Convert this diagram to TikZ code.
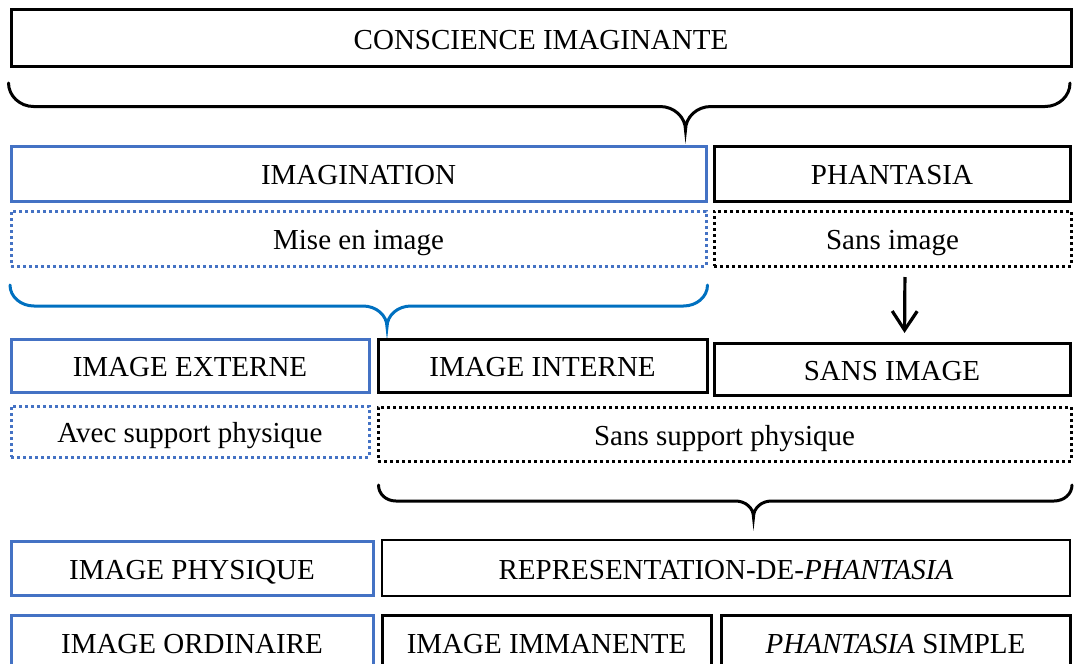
\documentclass[tikz,border=0pt]{standalone}
\usepackage{fontspec}
\setmainfont{Liberation Serif}
\usetikzlibrary{arrows.meta}

\definecolor{boxblue}{HTML}{4472C4}
\definecolor{braceblue}{HTML}{0070C0}

\tikzset{
  cell/.style={draw, line width=3pt, inner sep=0pt, outer sep=0pt,
    text height=22pt, text depth=0pt, align=center,
    font=\fontsize{29}{34}\selectfont},
  blackbox/.style={cell, draw=black},
  bluebox/.style={cell, draw=boxblue},
  dotbox/.style={cell, draw=black, dash pattern=on 3pt off 3pt},
  bluedotbox/.style={cell, draw=boxblue, dash pattern=on 3pt off 3pt},
  brace/.style={draw=black, line width=3pt, line cap=round},
  bluebrace/.style={draw=braceblue, line width=3pt, line cap=round},
  downarrow/.style={draw=black, line width=3.2pt,
    -{Straight Barb[length=19pt,width=25pt,line width=3.2pt]}},
}

\begin{document}
\begin{tikzpicture}[x=1pt, y=-1pt]
  \path[use as bounding box] (0,0) rectangle (1074,664);
  \clip (0,0) rectangle (1074,664);

  % top level
  \node[blackbox, minimum width=1060pt, minimum height=57pt] (consc) at (541,38) {CONSCIENCE IMAGINANTE};
  \path[brace] (8.5,83) .. controls (8.5,96) and (20,106.5) .. (33.5,106.5)
    -- (660,106.5) .. controls (674,106.5) and (685.5,117) .. (685.5,130)
    .. controls (685.5,117) and (697,106.5) .. (711,106.5)
    -- (1045,106.5) .. controls (1059,106.5) and (1070,96) .. (1070,83);

  % imagination / phantasia
  \node[bluebox, minimum width=695pt, minimum height=55pt] (imag) at (358.5,173.5) {IMAGINATION};
  \node[blackbox, minimum width=356pt, minimum height=55pt] (phant) at (892,173.5) {PHANTASIA};
  \node[bluedotbox, minimum width=695pt, minimum height=55pt] (mise) at (358.5,238.5) {Mise en image};
  \node[dotbox, minimum width=357pt, minimum height=55pt] (sansimg) at (892.5,238.5) {Sans image};

  \path[bluebrace] (10,285) .. controls (10,297) and (21,306) .. (34,306)
    -- (363,306) .. controls (376,306) and (387,315) .. (387,327)
    .. controls (387,315) and (398,306) .. (411,306)
    -- (683.5,306) .. controls (696.5,306) and (707.5,297) .. (707.5,285);

  % external / internal / without image
  \node[bluebox, minimum width=358pt, minimum height=53pt] (ext) at (190,365.5) {IMAGE EXTERNE};
  \node[blackbox, minimum width=329pt, minimum height=53pt] (int) at (542.5,365.5) {IMAGE INTERNE};
  \node[blackbox, minimum width=356pt, minimum height=52pt] (sansimage) at (892,369) {SANS IMAGE};
  \node[bluedotbox, minimum width=358pt, minimum height=51pt] (avec) at (190,431.5) {Avec support physique};
  \node[dotbox, minimum width=693pt, minimum height=54pt] (sanssup) at (724.5,434) {Sans support physique};

  \draw[downarrow, shorten <=11pt, shorten >=10pt]
    ([xshift=12.5pt]sansimg.south) -- ([xshift=12.5pt]sansimage.north);

  \path[brace] (378.5,485) .. controls (378.5,494) and (386,501) .. (396,501)
    -- (735.5,501) .. controls (745.5,501) and (753.5,508) .. (753.5,517)
    .. controls (753.5,508) and (761.5,501) .. (771.5,501)
    -- (1054,501) .. controls (1064,501) and (1072,494) .. (1072,485);

  % lower rows
  \node[bluebox, minimum width=362pt, minimum height=54pt] (phys) at (192,568) {IMAGE PHYSIQUE};
  \node[blackbox, line width=2.5pt, minimum width=688pt, minimum height=56pt] (repr) at (726,568) {REPRESENTATION-DE-\textit{PHANTASIA}};
  \node[bluebox, minimum width=362pt, minimum height=54pt] (ordin) at (192,642) {IMAGE ORDINAIRE};
  \node[blackbox, minimum width=329pt, minimum height=54pt] (imman) at (546.5,642) {IMAGE IMMANENTE};
  \node[blackbox, minimum width=349pt, minimum height=54pt] (simple) at (895.5,642) {\textit{PHANTASIA} SIMPLE};
\end{tikzpicture}
\end{document}
